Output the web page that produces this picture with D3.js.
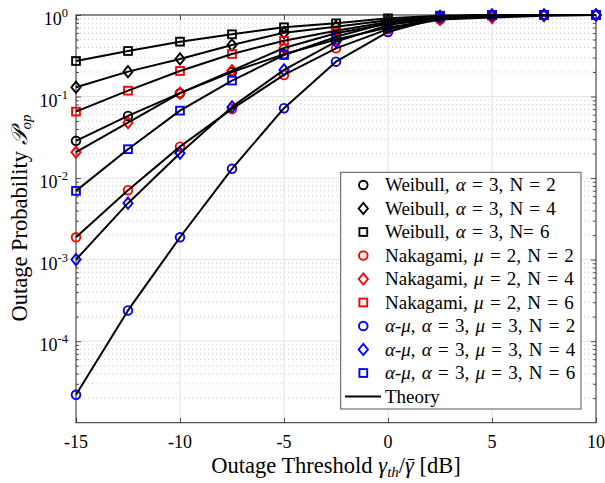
<!DOCTYPE html>
<html>
<head>
<meta charset="utf-8">
<script src="https://cdn.jsdelivr.net/npm/d3@7"></script>
<style>
  html, body { margin: 0; padding: 0; background: #fff; }
  svg { display: block; }
  text { font-family: "Liberation Serif", "Times New Roman", serif; fill: #000; white-space: pre; }
</style>
</head>
<body>
<svg id="chart" width="605" height="483"></svg>
<script>
// Outage threshold in dB (shared by every series)
const thresholdsDb = [-15, -12.5, -10, -7.5, -5, -2.5, 0, 2.5, 5, 7.5, 10];

// Outage probability per fading model and number of branches N
const weibullN2  = [0.0286, 0.0578, 0.110, 0.200, 0.330, 0.500, 0.700, 0.900, 0.985, 0.999, 1.0];
const weibullN4  = [0.130, 0.202, 0.289, 0.429, 0.607, 0.720, 0.860, 0.960, 0.995, 1.0, 1.0];
const weibullN6  = [0.273, 0.362, 0.471, 0.580, 0.707, 0.790, 0.910, 0.980, 0.998, 1.0, 1.0];
const nakagamiN2 = [0.00188, 0.0071, 0.0243, 0.0705, 0.184, 0.390, 0.670, 0.880, 0.970, 0.995, 1.0];
const nakagamiN4 = [0.0208, 0.0479, 0.110, 0.208, 0.394, 0.597, 0.780, 0.880, 0.930, 0.980, 1.0];
const nakagamiN6 = [0.0653, 0.118, 0.206, 0.333, 0.484, 0.642, 0.820, 0.950, 0.990, 1.0, 1.0];
const alphaMuN2  = [2.2e-5, 2.38e-4, 1.88e-3, 0.013, 0.072, 0.268, 0.620, 0.930, 0.995, 1.0, 1.0];
const alphaMuN4  = [1.0e-3, 4.92e-3, 0.0202, 0.0746, 0.212, 0.471, 0.750, 0.950, 0.998, 1.0, 1.0];
const alphaMuN6  = [0.00697, 0.0226, 0.0672, 0.157, 0.323, 0.540, 0.800, 0.960, 0.999, 1.0, 1.0];

// Axis ticks
const xTicks = [-15, -10, -5, 0, 5, 10];
const yTickExponents = [-4, -3, -2, -1, 0];

// Legend entries: [label parts (text, italic), values, colour, marker]
const series = [
  { parts: [["Weibull, ", 0], ["α", 1], [" = 3, N = 2", 0]], values: weibullN2, color: "#000000", marker: "circle" },
  { parts: [["Weibull, ", 0], ["α", 1], [" = 3, N = 4", 0]], values: weibullN4, color: "#000000", marker: "diamond" },
  { parts: [["Weibull, ", 0], ["α", 1], [" = 3, N= 6", 0]], values: weibullN6, color: "#000000", marker: "square" },
  { parts: [["Nakagami, ", 0], ["μ", 1], [" = 2, N = 2", 0]], values: nakagamiN2, color: "#ff0000", marker: "circle" },
  { parts: [["Nakagami, ", 0], ["μ", 1], [" = 2, N = 4", 0]], values: nakagamiN4, color: "#ff0000", marker: "diamond" },
  { parts: [["Nakagami, ", 0], ["μ", 1], [" = 2, N = 6", 0]], values: nakagamiN6, color: "#ff0000", marker: "square" },
  { parts: [["α", 1], ["-", 0], ["μ", 1], [", ", 0], ["α", 1], [" = 3, ", 0], ["μ", 1], [" = 3, N = 2", 0]], values: alphaMuN2, color: "#0000ff", marker: "circle" },
  { parts: [["α", 1], ["-", 0], ["μ", 1], [", ", 0], ["α", 1], [" = 3, ", 0], ["μ", 1], [" = 3, N = 4", 0]], values: alphaMuN4, color: "#0000ff", marker: "diamond" },
  { parts: [["α", 1], ["-", 0], ["μ", 1], [", ", 0], ["α", 1], [" = 3, ", 0], ["μ", 1], [" = 3, N = 6", 0]], values: alphaMuN6, color: "#0000ff", marker: "square" }
];

const svg = d3.select("#chart");
const plot = { left: 76, right: 596, top: 15, bottom: 422.7 };

const x = d3.scaleLinear().domain([-15, 10]).range([plot.left, plot.right]);
const y = d3.scaleLog().domain([1e-5, 1]).range([plot.bottom, plot.top]);

// Grid: dotted minor lines inside each decade, light solid lines at majors
const minorVals = [];
for (let e = -5; e < 0; e++) for (let k = 2; k <= 9; k++) minorVals.push(k * Math.pow(10, e));

const grid = svg.append("g");
grid.selectAll("line.minor").data(minorVals).join("line")
  .attr("x1", plot.left).attr("x2", plot.right)
  .attr("y1", d => y(d)).attr("y2", d => y(d))
  .attr("stroke", "#c8c8c8").attr("stroke-width", 1).attr("stroke-dasharray", "1,3");
grid.selectAll("line.hmajor").data(yTickExponents).join("line")
  .attr("x1", plot.left).attr("x2", plot.right)
  .attr("y1", d => y(Math.pow(10, d))).attr("y2", d => y(Math.pow(10, d)))
  .attr("stroke", "#e3e3e3").attr("stroke-width", 1);
grid.selectAll("line.vmajor").data(xTicks.slice(1, -1)).join("line")
  .attr("x1", d => x(d)).attr("x2", d => x(d))
  .attr("y1", plot.top).attr("y2", plot.bottom)
  .attr("stroke", "#e3e3e3").attr("stroke-width", 1);

// Axes with inward ticks on all four sides
const axisColor = "#262626";
const xAxisB = d3.axisBottom(x).tickValues(xTicks).tickSize(-5).tickFormat("");
const xAxisT = d3.axisTop(x).tickValues(xTicks).tickSize(-5).tickFormat("");
const yMajor = yTickExponents.map(e => Math.pow(10, e));
const yAxisL = d3.axisLeft(y).tickValues(yMajor).tickSize(-5).tickFormat("");
const yAxisR = d3.axisRight(y).tickValues(yMajor).tickSize(-5).tickFormat("");
const yMinorL = d3.axisLeft(y).tickValues(minorVals).tickSize(-3).tickFormat("");
const yMinorR = d3.axisRight(y).tickValues(minorVals).tickSize(-3).tickFormat("");

function styleAxis(g) {
  g.select(".domain").remove();
  g.selectAll(".tick line").attr("stroke", axisColor).attr("stroke-width", 0.8);
}
svg.append("g").attr("transform", `translate(0,${plot.bottom})`).call(xAxisB).call(styleAxis);
svg.append("g").attr("transform", `translate(0,${plot.top})`).call(xAxisT).call(styleAxis);
svg.append("g").attr("transform", `translate(${plot.left},0)`).call(yAxisL).call(styleAxis);
svg.append("g").attr("transform", `translate(${plot.right},0)`).call(yAxisR).call(styleAxis);
svg.append("g").attr("transform", `translate(${plot.left},0)`).call(yMinorL).call(styleAxis);
svg.append("g").attr("transform", `translate(${plot.right},0)`).call(yMinorR).call(styleAxis);

svg.append("rect")
  .attr("x", plot.left).attr("y", plot.top)
  .attr("width", plot.right - plot.left).attr("height", plot.bottom - plot.top)
  .attr("fill", "none").attr("stroke", axisColor).attr("stroke-width", 1);

// Tick labels
svg.append("g").selectAll("text").data(xTicks).join("text")
  .attr("x", d => x(d)).attr("y", 448)
  .attr("text-anchor", "middle").attr("font-size", 18)
  .text(d => d);

const yLab = svg.append("g").selectAll("text").data(yTickExponents).join("text")
  .attr("x", 68).attr("y", d => y(Math.pow(10, d)) + 10)
  .attr("text-anchor", "end").attr("font-size", 18);
yLab.append("tspan").text("10");
yLab.append("tspan").attr("dy", -8).attr("font-size", 12.5).text(d => d);

// Marker shapes
function drawMarker(sel, type, color, cx, cy) {
  if (type === "circle") {
    sel.append("circle").attr("cx", cx).attr("cy", cy).attr("r", 4.3)
      .attr("fill", "none").attr("stroke", color).attr("stroke-width", 1.9);
  } else if (type === "square") {
    sel.append("rect").attr("x", cx - 3.9).attr("y", cy - 3.9).attr("width", 7.8).attr("height", 7.8)
      .attr("fill", "none").attr("stroke", color).attr("stroke-width", 1.9);
  } else {
    sel.append("path")
      .attr("d", `M${cx},${cy - 5.6}L${cx + 4.6},${cy}L${cx},${cy + 5.6}L${cx - 4.6},${cy}Z`)
      .attr("fill", "none").attr("stroke", color).attr("stroke-width", 1.9);
  }
}

// Simulated points
const markers = svg.append("g");
series.forEach(s => {
  s.values.forEach((v, i) => drawMarker(markers, s.marker, s.color, x(thresholdsDb[i]), y(v)));
});

// Theory curves
const line = d3.line().x((d, i) => x(thresholdsDb[i])).y(d => y(d));
svg.append("g").selectAll("path").data(series).join("path")
  .attr("d", d => line(d.values))
  .attr("fill", "none").attr("stroke", "#000").attr("stroke-width", 2)
  .attr("stroke-linejoin", "round");

// Legend
const lg = { x: 340.7, y: 172.3, w: 240.3, h: 236.7, row0: 185, dy: 23.5 };
const legend = svg.append("g");
legend.append("rect").attr("x", lg.x).attr("y", lg.y).attr("width", lg.w).attr("height", lg.h)
  .attr("fill", "#fff").attr("stroke", "#555").attr("stroke-width", 1);
series.forEach((s, i) => {
  const cy = lg.row0 + i * lg.dy;
  drawMarker(legend, s.marker, s.color, 363.3, cy);
  const t = legend.append("text").attr("x", 385).attr("y", cy + 6)
    .attr("font-size", 19).attr("word-spacing", 1.5);
  s.parts.forEach(([str, it]) => {
    const sp = t.append("tspan").text(str);
    if (it) sp.attr("font-style", "italic");
  });
});
{
  const cy = lg.row0 + 9 * lg.dy;
  legend.append("line").attr("x1", 345).attr("x2", 381).attr("y1", cy).attr("y2", cy)
    .attr("stroke", "#000").attr("stroke-width", 2);
  legend.append("text").attr("x", 385).attr("y", cy + 6).attr("font-size", 19).text("Theory");
}

// Axis titles
const xtBase = 473;
const xt = svg.append("text").attr("x", 336).attr("y", xtBase)
  .attr("text-anchor", "middle").attr("font-size", 22.5);
xt.append("tspan").text("Outage Threshold ");
xt.append("tspan").attr("font-style", "italic").text("γ");
xt.append("tspan").attr("font-size", 15).attr("font-style", "italic").attr("dy", 4).text("th");
xt.append("tspan").attr("dy", -4).text("/");
xt.append("tspan").attr("font-style", "italic").text("γ");
xt.append("tspan").text(" [dB]");

// Bar over the second gamma (mean SNR)
{
  const idx = "Outage Threshold γth/".length;
  const ext = xt.node().getExtentOfChar(idx);
  svg.append("line")
    .attr("x1", ext.x + 2.5).attr("x2", ext.x + ext.width + 0.5)
    .attr("y1", xtBase - 13.5).attr("y2", xtBase - 13.5)
    .attr("stroke", "#000").attr("stroke-width", 1.1);
}

const yt = svg.append("text")
  .attr("transform", "translate(27,218) rotate(-90)")
  .attr("text-anchor", "middle").attr("font-size", 22.5);
yt.append("tspan").text("Outage Probability ");
yt.append("tspan").attr("font-style", "italic").text("𝒫");
yt.append("tspan").attr("font-size", 15).attr("font-style", "italic").attr("dy", 4).text("op");
</script>
</body>
</html>
